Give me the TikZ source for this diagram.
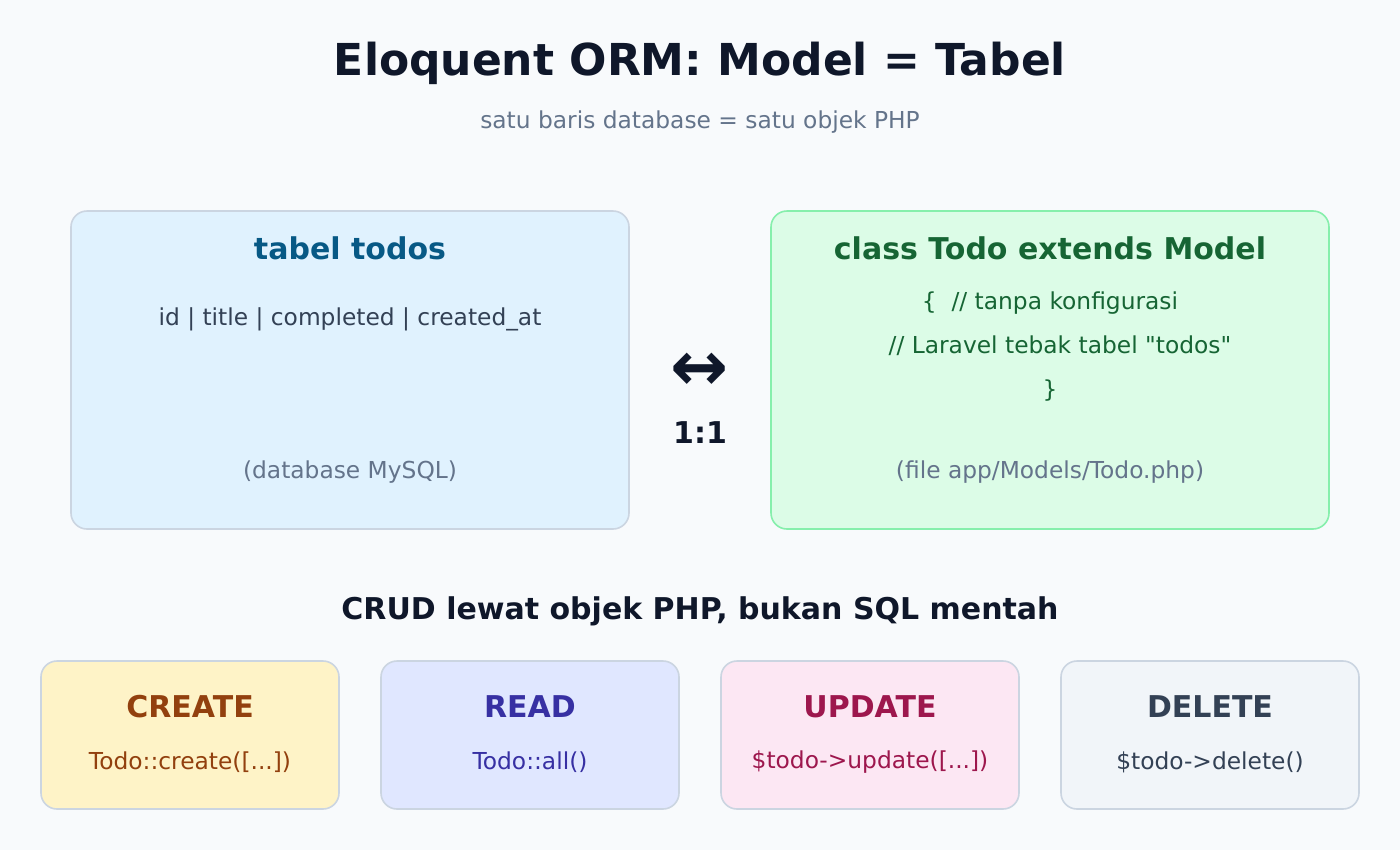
\documentclass[tikz,border=0pt]{standalone}
\usepackage{fontspec}
\setmainfont{DejaVu Sans}[Ligatures=TeXOff]
\usetikzlibrary{positioning}
\definecolor{bgc}{HTML}{F8FAFC}
\definecolor{ink}{HTML}{0F172A}
\definecolor{muted}{HTML}{64748B}
\definecolor{slate}{HTML}{334155}
\definecolor{edge}{HTML}{CBD5E1}
\definecolor{skyf}{HTML}{E0F2FE}
\definecolor{skyt}{HTML}{075985}
\definecolor{grnf}{HTML}{DCFCE7}
\definecolor{grne}{HTML}{86EFAC}
\definecolor{grnt}{HTML}{166534}
\definecolor{ambf}{HTML}{FEF3C7}
\definecolor{ambt}{HTML}{92400E}
\definecolor{indf}{HTML}{E0E7FF}
\definecolor{indt}{HTML}{3730A3}
\definecolor{pnkf}{HTML}{FCE7F3}
\definecolor{pnkt}{HTML}{9D174D}
\definecolor{gryf}{HTML}{F1F5F9}
\newcommand{\fs}[1]{\fontsize{#1}{#1}\selectfont}
\tikzset{
  box/.style={draw=edge, line width=1.2pt, rounded corners=12pt},
  head/.style={font=\fs{22.5}\bfseries},
  body/.style={font=\fs{17.5}},
}
\begin{document}
\begin{tikzpicture}[x=0.75pt,y=-0.75pt]
\fill[bgc] (0,0) rectangle (1400,850);
\node[font=\fs{33}\bfseries, text=ink] (title) at (700,63) {Eloquent ORM: Model = Tabel};
\node[font=\fs{17.5}, text=muted] (sub) at (700,122) {satu baris database = satu objek PHP};
% tabel dan model
\draw[box, fill=skyf] (71,211) rectangle (629,529);
\node[head, text=skyt] (tbl) at (350,248) {tabel todos};
\node[body, text=slate] (cols) at (350,319) {id | title | completed | created\_at};
\node[body, text=muted] (db) at (350,472) {(database MySQL)};
\draw[box, draw=grne, fill=grnf] (771,211) rectangle (1329,529);
\node[head, text=grnt] (cls) at (1050,248) {class Todo extends Model};
\node[body, text=grnt] (c1) at (1050,303) {\{\ \ // tanpa konfigurasi};
\node[body, text=grnt] (c2) at (1060,346) {// Laravel tebak tabel "todos"};
\node[body, text=grnt] (c3) at (1050,391) {\}};
\node[body, text=muted] (file) at (1050,472) {(file app/Models/Todo.php)};
\node[font=\fs{52}\bfseries, text=ink] (arr) at (700,372) {↔};
\node[font=\fs{22.5}\bfseries, text=ink] (ratio) at (700,433) {1:1};
% CRUD
\node[head, text=ink] (crud) at (700,611) {CRUD lewat objek PHP, bukan SQL mentah};
\foreach \x/\f/\t/\op/\nm in {41/ambf/ambt/{Todo::create([...])}/CREATE,
    381/indf/indt/{Todo::all()}/READ,
    721/pnkf/pnkt/{\$todo->update([...])}/UPDATE,
    1061/gryf/slate/{\$todo->delete()}/DELETE} {
  \draw[box, fill=\f] (\x,661) rectangle ++(298,148);
  \node[head, text=\t] (\nm) at (\x+149,707) {\nm};
  \node[body, text=\t] (\nm-op) at (\x+149,762) {\op};
}
\end{tikzpicture}
\end{document}
